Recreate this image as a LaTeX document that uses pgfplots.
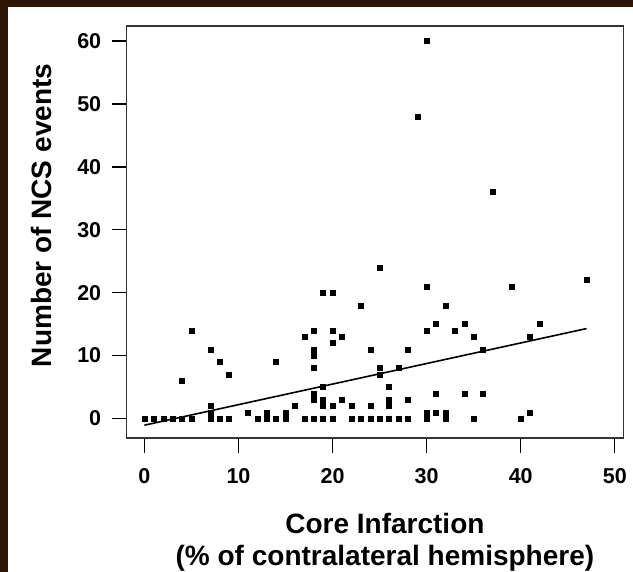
\documentclass[border=0pt]{standalone}
\usepackage{pgfplots}
\pgfplotsset{compat=1.18}
\usepackage{fontspec}
\setmainfont{Liberation Sans}
\definecolor{frame}{HTML}{2E1505}
\begin{document}
\begin{tikzpicture}[x=1pt,y=1pt]
\fill[white] (-126.7,-134) rectangle (506.3,438);
\useasboundingbox (-126.7,-134) rectangle (506.3,438);
\fill[frame] (-126.7,-134) rectangle (-118.7,438);
\fill[frame] (-126.7,431) rectangle (506.3,438);
\begin{axis}[
  at={(0,0)}, anchor=south west,
  scale only axis, width=496.6pt, height=412pt,
  xmin=-1.88, xmax=50.9, ymin=-3.1, ymax=62.4,
  xtick={0,10,...,50}, ytick={0,10,...,60},
  xtick pos=left, ytick pos=left,
  tick align=outside, major tick length=15pt,
  every tick/.style={black, line width=1.3pt},
  axis line style={black!80, line width=1.5pt},
  /pgf/number format/assume math mode=true,
  ticklabel style={font=\fontsize{21.5}{24}\selectfont\bfseries},
  xticklabel style={yshift=-12pt},
  yticklabel style={xshift=-7pt},
  xlabel={Core Infarction\\(\% of contralateral hemisphere)},
  xlabel style={font=\fontsize{28}{32}\selectfont\bfseries, align=center,
    at={(axis description cs:0.52,-0.252)}, anchor=center},
  ylabel={Number of NCS events},
  ylabel style={font=\fontsize{28}{30}\selectfont\bfseries,
    at={(axis description cs:-0.1706,0.54)}, anchor=center, rotate=0},
]
\addplot[only marks, mark=square*, mark size=2.5pt, black] coordinates {
(0,0)(1,0)(2,0)(3,0)(4,0)(5,0)(4,6)(5,14)
(7,11)(8,9)(9,7)(7,2)(7,1)(7,0)(8,0)(9,0)
(11,1)(12,0)(13,1)(13,0)(14,0)(14,9)(15,1)(15,0)(16,2)
(17,13)(17,0)(18,14)(18,11)(18,10)(18,8)(18,4)(18,3)(18,0)
(19,5)(19,3)(19,2)(19,0)(19,20)(20,20)(20,14)(20,12)(20,2)(20,0)
(21,13)(21,3)(22,2)(22,0)(23,18)(23,0)(24,11)(24,2)(24,0)
(25,24)(25,8)(25,7)(25,0)(26,5)(26,3)(26,2)(26,0)(27,8)(27,0)
(28,11)(28,3)(28,0)(29,48)(30,60)(30,21)(30,14)(30,1)(30,0)
(31,15)(31,4)(31,1)(32,18)(32,1)(32,0)(33,14)(34,15)(34,4)
(35,13)(35,0)(36,11)(36,4)(37,36)(39,21)(40,0)(41,13)(41,1)(42,15)(47,22)
};
\addplot[black, line width=1.6pt] coordinates {(0,-1.07)(47,14.3)};
\end{axis}
\end{tikzpicture}
\end{document}
